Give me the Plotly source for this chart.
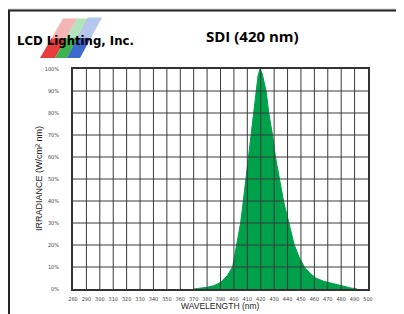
import plotly.graph_objects as go

# Spectral data
wavelength = [370, 375, 380, 385, 390, 395, 399, 402, 405, 407, 409, 410.6, 412.6,
              414.6, 416.5, 418, 419.5, 421, 424, 426, 428.8, 431, 434, 437, 441,
              445, 449, 452.6, 457, 461, 467, 473, 480, 487, 492]
irradiance = [0, 0.3, 0.8, 1.5, 3, 6, 10, 20, 30, 40, 50, 60, 70,
              80, 90, 97, 100, 98, 90, 80, 70, 60, 50, 40, 30,
              20, 14, 10, 7, 5, 3.5, 2.5, 1.5, 0.5, 0]

x_ticks = list(range(280, 501, 10))
y_ticks = list(range(0, 101, 10))
y_labels = [f"{v}%" for v in y_ticks]

title_text = "SDI (420 nm)"
logo_text = "LCD Lighting, Inc."
x_title = "WAVELENGTH (nm)"
y_title = "IRRADIANCE (W/cm² nm)"

OFF = 8  # page body margin
W, H = 404 - OFF, 314 - OFF
L, R, T, B = 73 - OFF, 36, 69 - OFF, 23
pw, ph = W - L - R, H - T - B

def px(x):
    return (x - OFF - L) / pw

def py(y):
    return (H - B - (y - OFF)) / ph

fig = go.Figure()
fig.add_trace(go.Scatter(
    x=wavelength, y=irradiance, mode="lines", fill="tozeroy",
    line=dict(color="#00a14b", width=1), fillcolor="#00a14b",
    hoverinfo="skip", showlegend=False,
))

shapes = []
# white panel with dark border
shapes.append(dict(type="rect", xref="paper", yref="paper",
                   x0=px(9), x1=px(420), y0=py(10), y1=py(330),
                   fillcolor="white", line=dict(color="#222", width=2), layer="below"))
# grid lines above the fill
for xv in x_ticks[1:-1]:
    shapes.append(dict(type="line", xref="x", yref="paper", x0=xv, x1=xv, y0=0, y1=1,
                       line=dict(color="#3a3a3a", width=1), layer="above"))
for yv in y_ticks[1:-1]:
    shapes.append(dict(type="line", xref="paper", yref="y", x0=0, x1=1, y0=yv, y1=yv,
                       line=dict(color="#3a3a3a", width=1), layer="above"))
# logo stripes (vivid lower part, pale upper part)
stripes = [
    ("rgba(230,40,40,0.9)", "rgba(240,150,150,0.7)", (40, 58), (55, 58), (77, 18), (63, 18)),
    ("rgba(40,170,60,0.9)", "rgba(150,215,160,0.7)", (55, 58), (67, 58), (88, 18), (77, 18)),
    ("rgba(40,90,200,0.9)", "rgba(150,175,230,0.7)", (67, 58), (80, 58), (102, 17), (88, 17)),
]
for col, pale, a, b, c, d in stripes:
    # split at mid height
    t = 0.5
    m1 = (a[0] + (d[0] - a[0]) * t, a[1] + (d[1] - a[1]) * t)
    m2 = (b[0] + (c[0] - b[0]) * t, b[1] + (c[1] - b[1]) * t)
    for pts, fc in (((a, b, m2, m1), col), ((m1, m2, c, d), pale)):
        path = "M " + " L ".join(f"{px(p[0])} {py(p[1])}" for p in pts) + " Z"
        shapes.append(dict(type="path", xref="paper", yref="paper", path=path,
                           fillcolor=fc, line=dict(width=0), layer="above"))

annotations = [
    dict(text=f"<b>{logo_text}</b>", xref="paper", yref="paper", x=px(75), y=py(40),
         xanchor="center", yanchor="middle", showarrow=False,
         font=dict(family="DejaVu Sans Condensed, Liberation Sans Narrow, sans-serif",
                   size=13, color="black")),
    dict(text=f"<b>{title_text}</b>", xref="paper", yref="paper", x=px(252), y=py(36),
         xanchor="center", yanchor="middle", showarrow=False,
         font=dict(family="Open Sans, sans-serif", size=15, color="black")),
    dict(text=x_title, xref="paper", yref="paper", x=px(220), y=py(308),
         xanchor="center", yanchor="middle", showarrow=False,
         font=dict(family="Liberation Sans, Arial, sans-serif", size=8.5, color="#222")),
    dict(text=y_title, xref="paper", yref="paper", x=px(39), y=py(180),
         xanchor="center", yanchor="middle", showarrow=False, textangle=-90,
         font=dict(family="Liberation Sans, Arial, sans-serif", size=9, color="#222")),
]

fig.update_layout(
    width=W, height=H,
    margin=dict(l=L, r=R, t=T, b=B),
    paper_bgcolor="#e6e6e6", plot_bgcolor="white",
    shapes=shapes, annotations=annotations,
    showlegend=False,
)
fig.update_xaxes(range=[280, 500], tickvals=x_ticks, ticktext=[str(v) for v in x_ticks],
                 showgrid=False, zeroline=False, showline=True, mirror=True,
                 linecolor="#333", linewidth=2, ticks="", ticklabelstandoff=3,
                 tickfont=dict(family="DejaVu Sans Condensed, sans-serif", size=5.5, color="#444"))
fig.update_yaxes(range=[0, 100], tickvals=y_ticks, ticktext=y_labels,
                 showgrid=False, zeroline=False, showline=True, mirror=True,
                 linecolor="#333", linewidth=2, ticks="", ticklabelstandoff=11,
                 tickfont=dict(family="DejaVu Sans Condensed, sans-serif", size=5.5, color="#444"))

fig.write_html("out.html")
